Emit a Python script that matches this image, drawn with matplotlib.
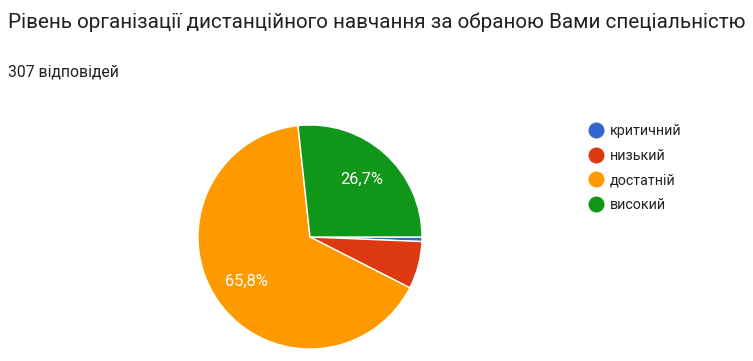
import matplotlib.pyplot as plt
from matplotlib.lines import Line2D

# дані з опитування
labels = ["критичний", "низький", "достатній", "високий"]
counts = [2, 21, 202, 82]
colors = ["#3366cc", "#dc3912", "#ff9900", "#109618"]

title = "Рівень організації дистанційного навчання за обраною Вами спеціальністю"
subtitle = "307 відповідей"

plt.rcParams['font.family'] = ['Roboto', 'DejaVu Sans']

W, H = 753, 361
fig = plt.figure(figsize=(W / 100, H / 100), dpi=100)
fig.patch.set_facecolor("white")

# pie centre (310, 237), radius 112 px
cx, cy, r = 310, 237, 112
ax = fig.add_axes([(cx - r) / W, (H - cy - r) / H, 2 * r / W, 2 * r / H])


def pct(p):
    return ("%.1f%%" % p).replace(".", ",") if p > 10 else ""


wedges, texts, autotexts = ax.pie(
    counts, colors=colors, startangle=0, counterclock=False,
    autopct=pct, pctdistance=0.69,
    wedgeprops=dict(edgecolor="white", linewidth=1),
    textprops=dict(color="white", fontsize=11.8))
ax.set_aspect("equal")
ax.set_xlim(-1, 1)
ax.set_ylim(-1, 1)

fig.text(8 / W, 1 - 22 / H, title, fontsize=14.9, color="#212121", va="center", ha="left")
fig.text(8 / W, 1 - 72 / H, subtitle, fontsize=11.3, color="#212121", va="center", ha="left")

handles = [Line2D([], [], marker="o", linestyle="", markersize=10.5,
                  markerfacecolor=c, markeredgecolor=c) for c in colors]
fig.legend(handles, labels, loc="upper left", bbox_to_anchor=(590 / W, 1 - 124 / H),
           frameon=False, fontsize=10.3, handlelength=0.8, handletextpad=0.6,
           labelspacing=0.75, labelcolor="#222222", borderaxespad=0, borderpad=0)

fig.savefig("out.png", dpi=100)
